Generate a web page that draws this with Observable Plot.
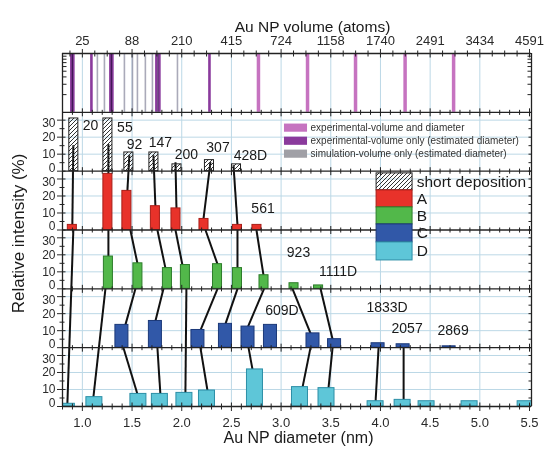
<!DOCTYPE html>
<html><head><meta charset="utf-8">
<script src="https://cdn.jsdelivr.net/npm/d3@7"></script>
<script src="https://cdn.jsdelivr.net/npm/@observablehq/plot@0.6"></script>
<style>body{margin:0;background:#fff;} #chart svg{display:block;}</style>
</head><body><div id="chart"></div>
<script>
// ---------------- data ----------------
const volTickD = [1.0, 1.5, 2.0, 2.5, 3.0, 3.5, 4.0, 4.5, 5.0, 5.5];
const volTickLabels = ["25", "88", "210", "415", "724", "1158", "1740", "2491", "3434", "4591"];
const diamTicks = [1.0, 1.5, 2.0, 2.5, 3.0, 3.5, 4.0, 4.5, 5.0, 5.5];
const yTickValues = [0, 10, 20, 30];

// top strip: cluster sizes placed on the diameter axis
const stripBoth = [2.772, 3.266, 3.749, 4.248, 4.736];          // experimental volume and diameter
const stripExpOnly = [0.889, 0.909, 1.091, 1.282, 1.302, 1.745, 1.775, 2.279]; // experimental volume only
const stripSim = [0.899, 1.151, 1.222, 1.292, 1.423, 1.504, 1.554, 1.634, 1.705, 1.760, 1.957]; // simulation volume only

// short deposition (hatched)
const shortD = [0.914, 1.257, 1.468, 1.720, 1.952, 2.279, 2.551];
const shortV = [31, 31, 11, 11, 4, 6.5, 4];
// series A
const aD = [0.899, 1.257, 1.448, 1.735, 1.942, 2.224, 2.561, 2.757];
const aV = [3, 33, 23, 14, 12.7, 6.5, 3, 3];
// series B
const bD = [1.262, 1.559, 1.856, 2.037, 2.360, 2.561, 2.828, 3.130, 3.377];
const bV = [19, 15, 12.2, 14, 14.5, 12.2, 8, 3.3, 2];
// series C
const cD = [1.398, 1.735, 2.163, 2.440, 2.667, 2.893, 3.321, 3.538, 3.976, 4.228, 4.691];
const cV = [13.4, 15.7, 10.4, 14, 12.4, 13.4, 8.4, 5, 2.6, 2, 0.8];
// series D
const dD = [0.844, 1.121, 1.564, 1.780, 2.027, 2.254, 2.737, 3.190, 3.457, 3.951, 4.223, 4.464, 4.897, 5.461];
const dV = [1.6, 5.5, 7.4, 7.4, 8, 9.4, 21.8, 11.4, 10.8, 3.1, 3.9, 3.1, 3.1, 3.1];

// size labels: [panel, diameter, intensity, text]
const sizeLabels = [
  ["S", 1.081, 27, "20"], ["S", 1.428, 25.9, "55"], ["S", 1.524, 15.9, "92"],
  ["S", 1.786, 17.1, "147"], ["S", 2.047, 10, "200"], ["S", 2.365, 14.1, "307"],
  ["S", 2.692, 9.4, "428D"], ["A", 2.818, 12.4, "561"], ["B", 3.175, 21.2, "923"],
  ["B", 3.573, 10, "1111D"], ["C", 3.009, 21.8, "609D"], ["C", 4.066, 23.5, "1833D"],
  ["C", 4.268, 11.2, "2057"], ["C", 4.731, 10, "2869"]
];

// assignment lines: [fromPanel, fromD, fromV, toPanel, toD, toV]
const links = [
  ["S", 0.909, 15.3, "A", 0.899, 3], ["S", 1.262, 15.9, "A", 1.262, 33],
  ["S", 1.473, 9.4, "A", 1.453, 23], ["S", 1.715, 9.4, "A", 1.735, 14],
  ["S", 1.937, 5.3, "A", 1.947, 12.7], ["S", 2.289, 5.3, "A", 2.219, 6.5],
  ["S", 2.521, 3.5, "A", 2.561, 3],
  ["A", 0.909, 0, "D", 0.849, 1.6], ["A", 1.262, 0, "B", 1.262, 19],
  ["A", 1.483, 0, "B", 1.554, 15], ["A", 1.755, 0, "B", 1.836, 12.2],
  ["A", 1.937, 0, "B", 2.007, 14], ["A", 2.239, 0, "B", 2.360, 14.5],
  ["A", 2.561, 0, "B", 2.561, 12.2], ["A", 2.752, 0, "B", 2.823, 8],
  ["B", 1.232, 0, "D", 1.111, 5.5], ["B", 1.534, 0, "C", 1.433, 13.4],
  ["B", 1.816, 0, "C", 1.735, 15.7], ["B", 2.047, 0, "D", 2.037, 8],
  ["B", 2.360, 0, "C", 2.190, 10.4], ["B", 2.561, 0, "C", 2.440, 14],
  ["B", 2.828, 0, "C", 2.667, 12.4],
  ["B", 3.115, 0, "C", 3.296, 8.4], ["B", 3.397, 0, "C", 3.518, 5],
  ["C", 1.413, 0, "D", 1.554, 7.4], ["C", 1.755, 0, "D", 1.785, 7.4],
  ["C", 2.188, 0, "D", 2.259, 9.4], ["C", 2.672, 0, "D", 2.712, 21.8],
  ["C", 3.296, 0, "D", 3.216, 11.4], ["C", 3.518, 0, "D", 3.477, 10.8],
  ["C", 3.981, 0, "D", 3.951, 3.1], ["C", 4.233, 0, "D", 4.233, 3.9]
];

const legend1Labels = ["experimental-volume and diameter", "experimental-volume only (estimated diameter)", "simulation-volume only (estimated diameter)"];
const legend2Labels = ["short deposition", "A", "B", "C", "D"];

// ---------------- layout ----------------
const P = 34.6;                        // one panel height in intensity units
const base = {D: 0, C: P, B: 2 * P, A: 3 * P, S: 4 * P, V: 5 * P};
const X0 = 0.8, X1 = 5.52;
const W = 544, H = 450, mL = 62, mR = 13, mT = 53, mB = 44;
const ux = (X1 - X0) / (W - mL - mR);  // nm per pixel
const uy = (6 * P) / (H - mT - mB);    // units per pixel
const ink = "#222";
const gridC = "#bcd8e6";

const colors = {
  both: "#c673c0", expOnly: "#8a3a9c", sim: "#8e8ea2",
  A: ["#e8322a", "#a81e18"], B: ["#52b84a", "#2d7d2a"],
  C: ["#3158a8", "#1b3878"], D: ["#5ec6d8", "#2c8ea6"]
};
const widths = {S: 0.091, A: 0.091, B: 0.091, C: 0.131, D: 0.161};

const series = [
  {p: "S", d: shortD, v: shortV, fill: "url(#hatch)", stroke: "#222"},
  {p: "A", d: aD, v: aV, fill: colors.A[0], stroke: colors.A[1]},
  {p: "B", d: bD, v: bV, fill: colors.B[0], stroke: colors.B[1]},
  {p: "C", d: cD, v: cV, fill: colors.C[0], stroke: colors.C[1]},
  {p: "D", d: dD, v: dV, fill: colors.D[0], stroke: colors.D[1]}
];
const barMarks = series.map(s => Plot.rect(s.d.map((d, i) => ({d, v: s.v[i]})), {
  x1: r => r.d - widths[s.p] / 2, x2: r => r.d + widths[s.p] / 2,
  y1: base[s.p], y2: r => base[s.p] + r.v,
  fill: s.fill, stroke: s.stroke, strokeWidth: 1, clip: true
}));

const intensityPanels = ["D", "C", "B", "A", "S"];
const hGrid = intensityPanels.flatMap(p => [10, 20, 30].map(v => base[p] + v));
const leftTicks = intensityPanels.flatMap(p => yTickValues.map(v => ({y: base[p] + v, v})));
const leftMinor = intensityPanels.flatMap(p => [5, 15, 25].map(v => base[p] + v));
const logTicks = d3.range(2, 10).map(k => base.V + P * Math.log10(k));

const tenths = d3.range(8, 56).map(i => ({x: i / 10, major: i % 5 === 0}));
const eighths = d3.range(7, 45).map(i => i / 8).filter(x => x > X0 && x < X1 && (x * 2) % 1 !== 0);
const seps = [base.C, base.B, base.A, base.S, base.V];
const sepTicks = seps.flatMap(y => tenths.map(t => ({x: t.x, y, len: t.major ? 4 : 2.5})));

// legend 1 (inside short-deposition panel), legend 2 (across A/B panels)
const lg1 = legend1Labels.map((t, i) => ({t, y: base.S + [25.3, 17.6, 10][i], c: [colors.both, colors.expOnly, "#a0a0a6"][i]}));
const lg2Tops = [137.1, 127.1, 117.1, 107.1, 96.5, 85.9];
const lg2 = legend2Labels.map((t, i) => ({t, y1: lg2Tops[i + 1], y2: lg2Tops[i],
  fill: i === 0 ? "url(#hatch)" : colors["ABCD"[i - 1]][0], stroke: i === 0 ? "#222" : colors["ABCD"[i - 1]][1]}));

const yLabelStyle = {x: X0, y: t => t.y, text: t => String(t.v), textAnchor: "end", dx: -7, fontSize: 12, fill: "#2a2a2a"};

const chart = Plot.plot({
  width: W, height: H, marginTop: mT, marginBottom: mB, marginLeft: mL, marginRight: mR,
  style: {fontFamily: "'Liberation Sans', Arial, sans-serif", fontSize: "13px", color: "#2a2a2a", background: "#fff"},
  x: {domain: [X0, X1]},
  y: {domain: [0, 6 * P]},
  marks: [
    // grid
    Plot.ruleX(diamTicks.filter(d => d < X1 - 0.05), {y1: 0, y2: 6 * P, stroke: gridC, strokeWidth: 1}),
    Plot.ruleY(hGrid, {x1: X0, x2: X1, stroke: gridC, strokeWidth: 1}),
    // top strip
    Plot.ruleX(stripSim, {y1: base.V, y2: 6 * P, stroke: colors.sim, strokeWidth: 1.6, strokeOpacity: 0.75}),
    Plot.ruleX(stripExpOnly, {y1: base.V, y2: 6 * P, stroke: colors.expOnly, strokeWidth: 2.6, mixBlendMode: "multiply"}),
    Plot.ruleX(stripBoth, {y1: base.V, y2: 6 * P, stroke: colors.both, strokeWidth: 3.5}),
    // assignment lines
    Plot.link(links, {x1: l => l[1], y1: l => base[l[0]] + l[2], x2: l => l[4], y2: l => base[l[3]] + l[5],
      stroke: "#111", strokeWidth: 2}),
    // bars
    ...barMarks,
    // frames
    Plot.ruleY([0, ...seps, 6 * P], {x1: X0, x2: X1, stroke: ink, strokeWidth: 1.3}),
    Plot.ruleX([X0, X1], {y1: 0, y2: 6 * P, stroke: ink, strokeWidth: 1.3}),
    // x ticks on the separators
    Plot.link(sepTicks, {x1: t => t.x, x2: t => t.x, y1: t => t.y - t.len * uy, y2: t => t.y + t.len * uy, stroke: ink, strokeWidth: 1}),
    Plot.link(tenths.filter(t => !t.major), {x1: t => t.x, x2: t => t.x, y1: -3 * uy, y2: 3 * uy, stroke: ink, strokeWidth: 1}),
    Plot.link(tenths.filter(t => t.major), {x1: t => t.x, x2: t => t.x, y1: 0, y2: 4 * uy, stroke: ink, strokeWidth: 1}),
    Plot.link(eighths, {x1: d => d, x2: d => d, y1: 6 * P - 3 * uy, y2: 6 * P + 3 * uy, stroke: ink, strokeWidth: 1}),
    Plot.link(volTickD, {x1: d => d, x2: d => d, y1: 6 * P - 4 * uy, y2: 6 * P, stroke: ink, strokeWidth: 1}),
    // y ticks
    Plot.link(leftMinor, {x1: X0 - 3 * ux, x2: X0 + 2 * ux, y1: d => d, y2: d => d, stroke: ink, strokeWidth: 1}),
    Plot.link(leftTicks, {x1: X0, x2: X0 + 3 * ux, y1: t => t.y, y2: t => t.y, stroke: ink, strokeWidth: 1}),
    Plot.link([...leftTicks.map(t => t.y), ...leftMinor], {x1: X1 - 3 * ux, x2: X1, y1: d => d, y2: d => d, stroke: ink, strokeWidth: 1}),
    Plot.link(logTicks, {x1: X0, x2: X0 + 4 * ux, y1: d => d, y2: d => d, stroke: ink, strokeWidth: 1}),
    Plot.link(logTicks, {x1: X1 - 4 * ux, x2: X1, y1: d => d, y2: d => d, stroke: ink, strokeWidth: 1}),
    // axes
    Plot.axisY({anchor: "left", ticks: leftTicks.map(t => t.y), tickSize: 5, fill: "none", label: null}),
    Plot.text(leftTicks.filter(t => t.v === 10 || t.v === 20), yLabelStyle),
    Plot.text(leftTicks.filter(t => t.v === 0), {...yLabelStyle, dy: -3.5}),
    Plot.text(leftTicks.filter(t => t.v === 30), {...yLabelStyle, dy: 3.5}),
    Plot.axisX({anchor: "bottom", ticks: diamTicks, tickFormat: d3.format(".1f"), tickSize: 5, tickPadding: 6, fontSize: 13, label: null}),
    Plot.axisX({anchor: "top", ticks: volTickD, tickFormat: (d, i) => volTickLabels[i], tickSize: 5, tickPadding: 3.5, fontSize: 13, label: null}),
    // size labels
    Plot.text(sizeLabels, {x: l => l[1], y: l => base[l[0]] + l[2], text: l => l[3], fontSize: 14, fill: "#1a1a1a"}),
    // legend 1
    Plot.rect(lg1, {x1: 3.034, x2: 3.266, y1: r => r.y - 2.4, y2: r => r.y + 2.4, fill: r => r.c}),
    Plot.text(lg1, {x: 3.296, y: r => r.y, text: r => r.t, textAnchor: "start", fontSize: 10, fill: "#333"}),
    // legend 2
    Plot.rect(lg2, {x1: 3.961, x2: 4.323, y1: r => r.y1, y2: r => r.y2, fill: r => r.fill, stroke: r => r.stroke, strokeWidth: 1}),
    Plot.text(lg2, {x: 4.364, y: r => (r.y1 + r.y2) / 2, text: r => r.t, textAnchor: "start", fontSize: 15.5, fill: "#1a1a1a"}),
    // titles
    Plot.text(["Au NP volume (atoms)"], {x: 3.316, frameAnchor: "top", dy: -33, fontSize: 15.5, fill: "#1a1a1a"}),
    Plot.text(["Au NP diameter (nm)"], {x: 3.175, frameAnchor: "bottom", dy: 36, fontSize: 16, fill: "#1a1a1a"}),
    Plot.text(["Relative intensity (%)"], {x: X0, y: (H - mB - 233) * uy, dx: -44, rotate: -90, textAnchor: "middle", fontSize: 17, fill: "#1a1a1a"})
  ]
});

// hatch pattern for the short-deposition bars
d3.select(chart).insert("defs", ":first-child").html(
  '<pattern id="hatch" patternUnits="userSpaceOnUse" width="4" height="4">' +
  '<path d="M-1,1 l2,-2 M0,4 l4,-4 M3,5 l2,-2" stroke="#333" stroke-width="1"/></pattern>');
document.getElementById("chart").append(chart);
</script>
</body></html>
